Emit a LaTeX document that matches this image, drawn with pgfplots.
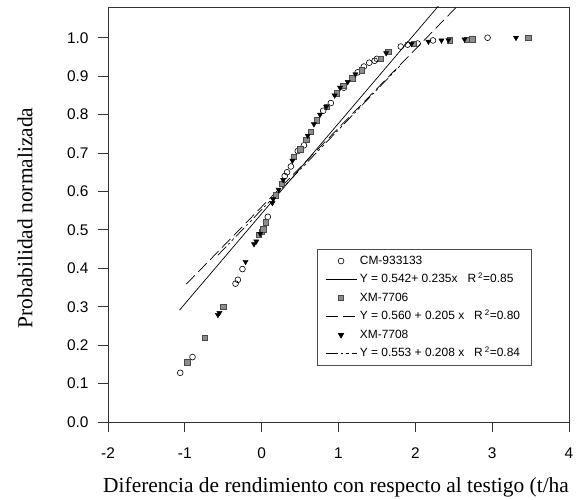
\documentclass[border=0pt]{standalone}
\usepackage{pgfplots}
\pgfplotsset{compat=1.18}
\usepackage{fontspec}
\setmainfont{Liberation Sans}
\newfontfamily\timesfont{Liberation Serif}
\definecolor{sqfill}{HTML}{8C8C8C}
\definecolor{sqedge}{HTML}{4A4A4A}
\definecolor{framec}{HTML}{333333}
\pgfplotsset{
  linelegend/.style={legend image code/.code={\draw[##1] (0bp,0bp) -- (31bp,0bp);}},
  marklegend/.style={legend image code/.code={\draw[##1] plot coordinates {(15.5bp,0bp)};}},
}
\begin{document}
\begin{tikzpicture}[x=1bp,y=1bp]
\path[use as bounding box] (-108,-78) rectangle (471,422);
\begin{axis}[
  at={(0,0)}, anchor=south west,
  scale only axis, width=461bp, height=415bp,
  xmin=-2, xmax=4, ymin=0, ymax=1.08,
  xtick={-2,-1,0,1,2,3,4},
  ytick={0,0.1,0.2,0.3,0.4,0.5,0.6,0.7,0.8,0.9,1.0},
  yticklabel style={/pgf/number format/.cd, fixed, fixed zerofill, precision=1},
  /pgf/number format/assume math mode=true,
  ticklabel style={font=\fontsize{15.5}{17}\selectfont},
  xticklabel shift=12bp, yticklabel shift=6bp,
  tick align=outside, tick pos=left,
  major tick length=10bp,
  every tick/.style={framec, line width=0.8bp},
  axis line style={framec, line width=0.8bp},
  legend cell align=left,
  legend style={at={(0.453,0.417)}, anchor=north west, draw=black!70, line width=0.7bp,
    font=\fontsize{12}{14}\selectfont, row sep=3bp,
    inner xsep=8bp, inner ysep=4bp,
    nodes={inner ysep=1bp, inner xsep=3bp, text height=10bp, text depth=3.5bp}},
]
% CM-933133 points
\addplot[only marks, marklegend, mark=o, mark size=2.9bp, black, line width=0.6bp, mark options={fill=white}] coordinates {
(-1.06,0.128) (-0.90,0.169) (-0.34,0.360) (-0.31,0.370) (-0.25,0.398) (0.08,0.534)
(0.30,0.640) (0.33,0.650) (0.38,0.665) (0.47,0.705) (0.55,0.720) (0.80,0.810)
(0.90,0.830) (1.07,0.870) (1.25,0.910) (1.33,0.925) (1.40,0.935) (1.47,0.940)
(1.50,0.945) (1.81,0.977) (1.90,0.982) (2.03,0.985) (2.23,0.993) (2.94,1.000)
};
\addlegendentry{CM-933133}
\addplot[linelegend, black, line width=0.7bp] coordinates {(-1.07,0.291) (2.40,1.106)};
\addlegendentry{Y = 0.542+ 0.235x\hspace{10bp}R\,\textsuperscript{2}=0.85}
% XM-7706 points
\addplot[only marks, marklegend, mark=square*, mark size=2.7bp, draw=sqedge, fill=sqfill, line width=0.5bp] coordinates {
(-0.97,0.156) (-0.74,0.220) (-0.50,0.300) (-0.04,0.487) (0.00,0.495) (0.02,0.502)
(0.05,0.520) (0.18,0.590) (0.26,0.620) (0.42,0.690) (0.50,0.710) (0.58,0.735)
(0.64,0.755) (0.72,0.785) (0.85,0.820) (0.98,0.855) (1.06,0.875) (1.18,0.895)
(1.30,0.915) (1.55,0.945) (1.65,0.963) (1.98,0.985) (2.45,0.993) (2.67,0.995)
(2.74,0.996) (3.47,1.000)
};
\addlegendentry{XM-7706}
\addplot[linelegend, black, line width=0.7bp, dash pattern=on 12bp off 5bp] coordinates {(-0.98,0.359) (2.60,1.093)};
\addlegendentry{Y = 0.560 + 0.205 x\hspace{10bp}R\,\textsuperscript{2}=0.80}
% XM-7708 points
\addplot[only marks, marklegend, mark=triangle*, mark size=3bp, black, mark options={rotate=180}] coordinates {
(-0.57,0.279) (-0.55,0.284) (-0.21,0.417) (-0.10,0.463) (-0.07,0.470) (-0.02,0.490)
(0.14,0.570) (0.15,0.580) (0.22,0.605) (0.28,0.630) (0.40,0.680) (0.60,0.745)
(0.68,0.775) (0.76,0.800) (0.84,0.820) (0.95,0.850) (1.02,0.870) (1.12,0.885)
(1.22,0.905) (1.62,0.960) (1.95,0.984) (2.17,0.990) (2.34,0.993) (2.43,0.994)
(2.64,0.996) (3.31,1.000)
};
\addlegendentry{XM-7708}
\addplot[linelegend, black, line width=0.7bp, dash pattern=on 12bp off 3bp on 2bp off 3bp on 3bp off 3bp] coordinates {(-0.57,0.434) (1.80,0.927)};
\addlegendentry{Y = 0.553 + 0.208 x\hspace{10bp}R\,\textsuperscript{2}=0.84}
\end{axis}
\node[anchor=base west, font=\timesfont\fontsize{21.5}{24}\selectfont, inner sep=0pt] at (-5,-71) {Diferencia de rendimiento con respecto al testigo (t/ha};
\node[rotate=90, anchor=center, font=\timesfont\fontsize{21.5}{24}\selectfont, inner sep=0pt] at (-83,204) {Probabilidad normalizada};
\end{tikzpicture}
\end{document}
